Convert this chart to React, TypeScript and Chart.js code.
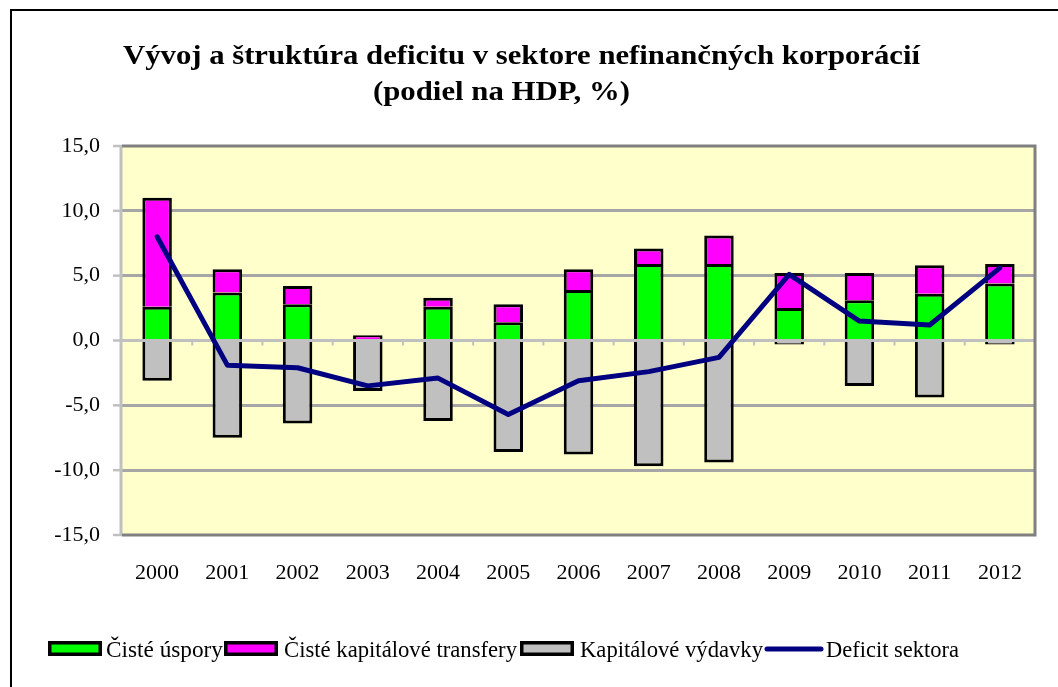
import React, { useEffect, useRef } from "react";
import { Chart, registerables } from "chart.js";

Chart.register(...registerables);

const years = ["2000", "2001", "2002", "2003", "2004", "2005", "2006", "2007", "2008", "2009", "2010", "2011", "2012"];
const cisteUspory = [2.6, 3.7, 2.8, 0.0, 2.6, 1.4, 3.9, 5.9, 5.9, 2.5, 3.1, 3.6, 4.4];
const kapitaloveTransfery = [8.4, 1.8, 1.4, 0.4, 0.7, 1.4, 1.6, 1.2, 2.2, 2.7, 2.1, 2.2, 1.5];
const kapitaloveVydavky = [-3.1, -7.5, -6.4, -3.9, -6.2, -8.6, -8.8, -9.7, -9.4, -0.3, -3.5, -4.4, -0.3];
const deficitSektora = [8.0, -1.9, -2.1, -3.5, -2.9, -5.7, -3.1, -2.4, -1.3, 5.1, 1.5, 1.2, 5.6];

const titleLines = ["Vývoj a štruktúra deficitu v sektore nefinančných korporácií", "(podiel na HDP, %)"];
const seriesNames = ["Čisté úspory", "Čisté kapitálové transfery", "Kapitálové výdavky", "Deficit sektora"];

const GREEN = "#00FF00";
const MAGENTA = "#FF00FF";
const GRAY = "#C0C0C0";
const NAVY = "#000080";
const SERIF = "'Liberation Serif', 'Times New Roman', serif";

function drawFitted(ctx: CanvasRenderingContext2D, text: string, x: number, y: number, width: number, font: string) {
  ctx.save();
  ctx.font = font;
  ctx.textAlign = "left";
  ctx.textBaseline = "alphabetic";
  const w = ctx.measureText(text).width;
  const sx = w > 0 ? width / w : 1;
  ctx.translate(x, y);
  ctx.scale(sx, 1);
  ctx.fillStyle = "#000";
  ctx.fillText(text, 0, 0);
  ctx.restore();
}

const decorPlugin = {
  id: "decor",
  beforeDraw(chart: any) {
    const { ctx, chartArea } = chart;
    ctx.save();
    ctx.fillStyle = "#FFFFFF";
    ctx.fillRect(0, 0, chart.width, chart.height);
    ctx.strokeStyle = "#000";
    ctx.lineWidth = 2;
    ctx.beginPath();
    ctx.moveTo(11, chart.height + 2);
    ctx.lineTo(11, 10);
    ctx.lineTo(chart.width + 2, 10);
    ctx.stroke();
    ctx.fillStyle = "#FFFFCC";
    ctx.fillRect(chartArea.left, chartArea.top, chartArea.right - chartArea.left, chartArea.bottom - chartArea.top);
    ctx.restore();
  },
  afterDatasetDraw(chart: any, args: any) {
    if (args.index !== 0) return;
    const { ctx, chartArea, scales } = chart;
    const y0 = scales.y.getPixelForValue(0);
    ctx.save();
    ctx.strokeStyle = GRAY;
    ctx.lineWidth = 3;
    ctx.beginPath();
    ctx.moveTo(chartArea.left, y0);
    ctx.lineTo(chartArea.right, y0);
    ctx.stroke();
    const n = years.length;
    const step = (chartArea.right - chartArea.left) / n;
    ctx.lineWidth = 2;
    for (let i = 1; i < n; i++) {
      const x = chartArea.left + i * step;
      ctx.beginPath();
      ctx.moveTo(x, y0);
      ctx.lineTo(x, y0 + 5);
      ctx.stroke();
    }
    ctx.restore();
  },
  afterDraw(chart: any) {
    const { ctx, chartArea, scales } = chart;
    const { left, right, top, bottom } = chartArea;
    ctx.save();
    ctx.strokeStyle = GRAY;
    ctx.lineWidth = 2.5;
    scales.y.ticks.forEach((t: any) => {
      const y = scales.y.getPixelForValue(t.value);
      ctx.beginPath();
      ctx.moveTo(left - 9, y);
      ctx.lineTo(left, y);
      ctx.stroke();
    });
    ctx.lineWidth = 3;
    ctx.beginPath();
    ctx.moveTo(left - 1, top);
    ctx.lineTo(left - 1, bottom + 1);
    ctx.stroke();
    ctx.strokeStyle = "#808080";
    ctx.lineWidth = 3;
    ctx.beginPath();
    ctx.moveTo(left, top);
    ctx.lineTo(right, top);
    ctx.lineTo(right, bottom);
    ctx.lineTo(left, bottom);
    ctx.stroke();

    drawFitted(ctx, titleLines[0], 123, 64, 797, "bold 28px " + SERIF);
    drawFitted(ctx, titleLines[1], 373, 100, 257, "bold 28px " + SERIF);

    const boxes = [
      { x: 48, fill: GREEN },
      { x: 224, fill: MAGENTA },
      { x: 520, fill: GRAY },
    ];
    boxes.forEach((b) => {
      ctx.fillStyle = "#000";
      ctx.fillRect(b.x, 641, 54, 15);
      ctx.fillStyle = b.fill;
      ctx.fillRect(b.x + 3.5, 644.5, 47, 8);
    });
    ctx.strokeStyle = NAVY;
    ctx.lineWidth = 5;
    ctx.lineCap = "round";
    ctx.beginPath();
    ctx.moveTo(767, 649);
    ctx.lineTo(821, 649);
    ctx.stroke();
    const legendFont = "24px " + SERIF;
    drawFitted(ctx, seriesNames[0], 106, 657, 117, legendFont);
    drawFitted(ctx, seriesNames[1], 284, 657, 233, legendFont);
    drawFitted(ctx, seriesNames[2], 580, 657, 183, legendFont);
    drawFitted(ctx, seriesNames[3], 826, 657, 133, legendFont);
    ctx.restore();
  },
};

export default function App() {
  const canvasRef = useRef<HTMLCanvasElement | null>(null);

  useEffect(() => {
    if (!canvasRef.current) return;
    const barCommon = {
      borderColor: "#000000",
      borderWidth: 3,
      borderSkipped: "start",
      categoryPercentage: 1.0,
      barPercentage: 0.42,
      stack: "s",
      order: 1,
    };
    const chart = new Chart(canvasRef.current, {
      type: "bar",
      data: {
        labels: years,
        datasets: [
          { ...barCommon, label: seriesNames[0], data: cisteUspory, backgroundColor: GREEN } as any,
          { ...barCommon, label: seriesNames[1], data: kapitaloveTransfery, backgroundColor: MAGENTA } as any,
          { ...barCommon, label: seriesNames[2], data: kapitaloveVydavky, backgroundColor: GRAY } as any,
          {
            type: "line",
            label: seriesNames[3],
            data: deficitSektora,
            borderColor: NAVY,
            backgroundColor: NAVY,
            borderWidth: 5,
            pointRadius: 0,
            pointHoverRadius: 0,
            tension: 0,
            borderCapStyle: "round",
            borderJoinStyle: "round",
            order: 0,
          } as any,
        ],
      },
      options: {
        responsive: false,
        animation: false,
        devicePixelRatio: 1,
        layout: { padding: { left: 0, top: 146, right: 23, bottom: 0 } },
        plugins: {
          legend: { display: false },
          title: { display: false },
          tooltip: { enabled: false },
        },
        scales: {
          x: {
            stacked: true,
            offset: true,
            grid: { display: false, drawTicks: false },
            border: { display: false },
            ticks: {
              padding: 25,
              color: "#000",
              font: { family: SERIF, size: 22 },
              maxRotation: 0,
              autoSkip: false,
            },
            afterFit: (scale: any) => {
              scale.height = 152;
            },
          },
          y: {
            stacked: true,
            min: -15,
            max: 15,
            grid: {
              drawTicks: false,
              lineWidth: 3,
              color: (c: any) => {
                const v = c.tick ? c.tick.value : 0;
                return v === 0 || v === 15 || v === -15 ? "rgba(0,0,0,0)" : "#A6A6A6";
              },
            },
            border: { display: false },
            ticks: {
              stepSize: 5,
              padding: 22,
              color: "#000",
              font: { family: SERIF, size: 22 },
              callback: (v: any) => Number(v).toFixed(1).replace(".", ","),
            },
            afterFit: (scale: any) => {
              scale.width = 122;
            },
          },
        },
      },
      plugins: [decorPlugin],
    });
    return () => chart.destroy();
  }, []);

  return (
    <div style={{ position: "absolute", left: 0, top: 0, width: 1058, height: 687 }}>
      <canvas ref={canvasRef} width={1058} height={687} style={{ display: "block", width: 1058, height: 687 }} />
    </div>
  );
}
